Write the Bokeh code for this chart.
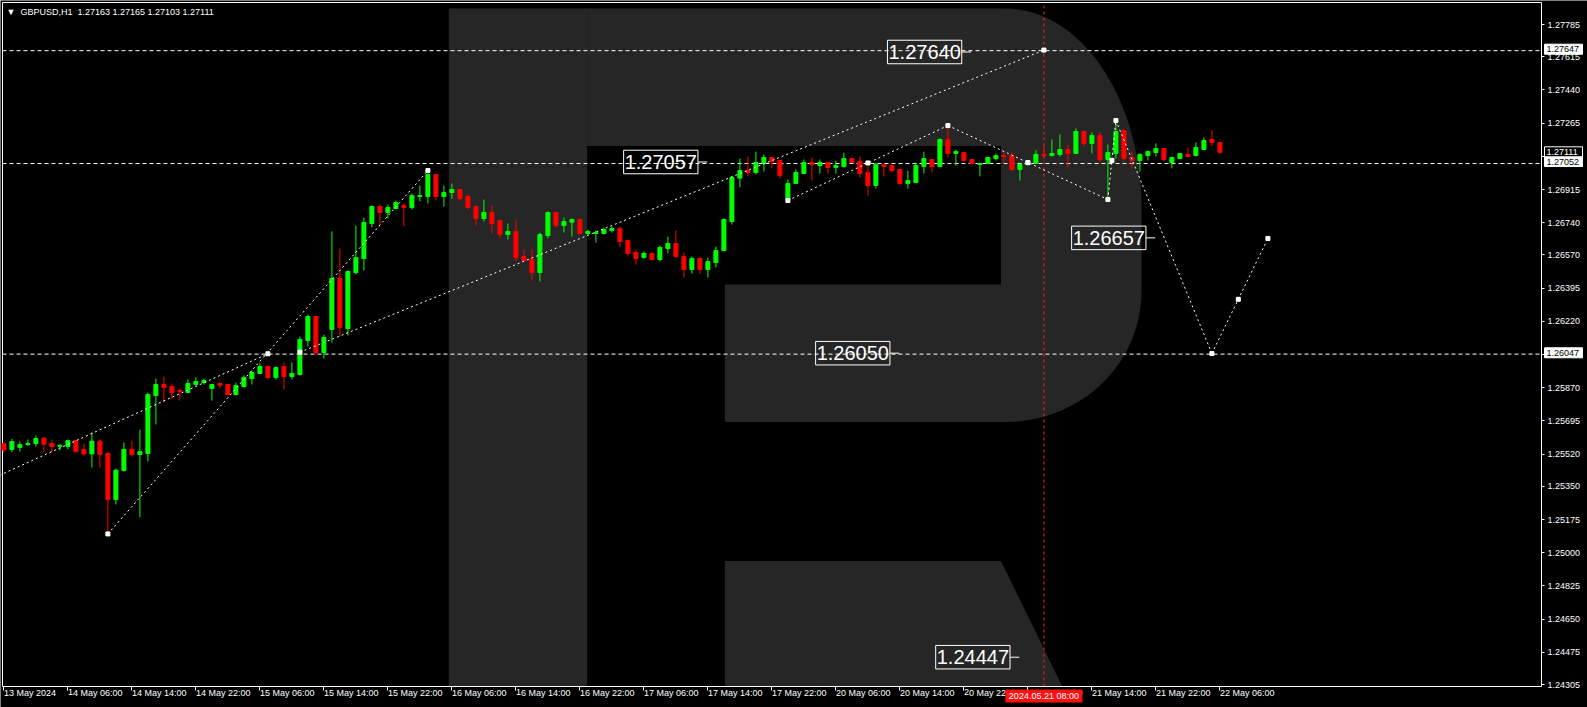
import numpy as np
from bokeh.plotting import figure
from bokeh.models import Range1d, FixedTicker, Label, ColumnDataSource
from bokeh.embed import file_html
from bokeh.resources import INLINE
from bokeh.core.properties import value

# ---------------- data ----------------
symbol_header = "▼\u00a0\u00a0GBPUSD,H1\u00a0\u00a01.27163 1.27165 1.27103 1.27111"

open_ = [1.25574, 1.25544, 1.25555, 1.25570, 1.25576, 1.25604, 1.25576, 1.25561, 1.25560, 1.25591,
         1.25544, 1.25521, 1.25588, 1.25523, 1.25280, 1.25433, 1.25544, 1.25518, 1.25523, 1.25829,
         1.25887, 1.25876, 1.25855, 1.25845, 1.25887, 1.25897, 1.25866, 1.25892, 1.25887, 1.25834,
         1.25876, 1.25918, 1.25945, 1.25982, 1.25924, 1.25982, 1.25929, 1.25939, 1.26119, 1.26245,
         1.26055, 1.26177, 1.26446, 1.26182, 1.26477, 1.26551, 1.26736, 1.26825, 1.26794, 1.26815,
         1.26831, 1.26820, 1.26878, 1.26878, 1.26994, 1.26878, 1.26899, 1.26915, 1.26878, 1.26825,
         1.26762, 1.26794, 1.26751, 1.26678, 1.26694, 1.26562, 1.26546, 1.26477, 1.26672, 1.26794,
         1.26725, 1.26743, 1.26757, 1.26683, 1.26683, 1.26683, 1.26699, 1.26709, 1.26646, 1.26583,
         1.26556, 1.26578, 1.26546, 1.26604, 1.26630, 1.26562, 1.26493, 1.26551, 1.26493, 1.26530,
         1.26593, 1.26746, 1.26975, 1.27015, 1.27005, 1.27054, 1.27084, 1.27068, 1.26862, 1.26947,
         1.26999, 1.27057, 1.27041, 1.27057, 1.27031, 1.27036, 1.27078, 1.27063, 1.27005, 1.26936,
         1.27047, 1.27041, 1.27020, 1.26947, 1.26952, 1.27036, 1.27073, 1.27036, 1.27179, 1.27105,
         1.27110, 1.27073, 1.27047, 1.27052, 1.27078, 1.27094, 1.27094, 1.27020, 1.27047, 1.27052,
         1.27100, 1.27094, 1.27100, 1.27126, 1.27105, 1.27221, 1.27158, 1.27200, 1.27073, 1.27105,
         1.27226, 1.27084, 1.27068, 1.27094, 1.27110, 1.27131, 1.27057, 1.27078, 1.27100, 1.27094,
         1.27126, 1.27179, 1.27163]
high = [1.25581, 1.25600, 1.25586, 1.25597, 1.25618, 1.25607, 1.25597, 1.25570, 1.25597, 1.25595,
        1.25576, 1.25634, 1.25595, 1.25533, 1.25444, 1.25581, 1.25591, 1.25649, 1.25845, 1.25918,
        1.25929, 1.25892, 1.25866, 1.25913, 1.25924, 1.25918, 1.25887, 1.25897, 1.25887, 1.25897,
        1.25934, 1.25961, 1.25998, 1.25987, 1.25982, 1.26003, 1.26003, 1.26140, 1.26256, 1.26245,
        1.26150, 1.26694, 1.26604, 1.26488, 1.26725, 1.26767, 1.26831, 1.26836, 1.26836, 1.26857,
        1.26841, 1.26894, 1.26936, 1.27015, 1.26994, 1.26936, 1.26947, 1.26915, 1.26889, 1.26831,
        1.26862, 1.26831, 1.26751, 1.26736, 1.26751, 1.26599, 1.26602, 1.26688, 1.26799, 1.26794,
        1.26767, 1.26762, 1.26757, 1.26704, 1.26699, 1.26715, 1.26720, 1.26720, 1.26651, 1.26599,
        1.26588, 1.26583, 1.26620, 1.26667, 1.26699, 1.26583, 1.26562, 1.26556, 1.26556, 1.26614,
        1.26762, 1.26984, 1.27078, 1.27089, 1.27115, 1.27100, 1.27084, 1.27068, 1.26968, 1.27020,
        1.27073, 1.27084, 1.27073, 1.27057, 1.27068, 1.27110, 1.27078, 1.27089, 1.27057, 1.27057,
        1.27047, 1.27041, 1.27020, 1.27015, 1.27057, 1.27115, 1.27073, 1.27184, 1.27252, 1.27126,
        1.27115, 1.27073, 1.27057, 1.27084, 1.27105, 1.27110, 1.27110, 1.27057, 1.27068, 1.27121,
        1.27147, 1.27179, 1.27205, 1.27152, 1.27237, 1.27221, 1.27216, 1.27216, 1.27152, 1.27279,
        1.27231, 1.27115, 1.27105, 1.27121, 1.27158, 1.27131, 1.27089, 1.27105, 1.27136, 1.27163,
        1.27189, 1.27226, 1.27165]
low = [1.25528, 1.25530, 1.25533, 1.25563, 1.25560, 1.25528, 1.25527, 1.25539, 1.25546, 1.25528,
       1.25512, 1.25449, 1.25449, 1.25099, 1.25254, 1.25428, 1.25507, 1.25187, 1.25481, 1.25676,
       1.25792, 1.25808, 1.25802, 1.25845, 1.25881, 1.25887, 1.25802, 1.25866, 1.25829, 1.25829,
       1.25871, 1.25887, 1.25945, 1.25913, 1.25913, 1.25860, 1.25913, 1.25934, 1.26087, 1.26045,
       1.26024, 1.26108, 1.26140, 1.26145, 1.26467, 1.26488, 1.26715, 1.26720, 1.26762, 1.26809,
       1.26720, 1.26809, 1.26852, 1.26841, 1.26857, 1.26825, 1.26866, 1.26861, 1.26809, 1.26725,
       1.26746, 1.26683, 1.26657, 1.26651, 1.26535, 1.26535, 1.26435, 1.26430, 1.26658, 1.26715,
       1.26688, 1.26667, 1.26678, 1.26678, 1.26635, 1.26678, 1.26688, 1.26611, 1.26562, 1.26519,
       1.26551, 1.26541, 1.26535, 1.26578, 1.26556, 1.26451, 1.26472, 1.26470, 1.26451, 1.26504,
       1.26593, 1.26730, 1.26926, 1.26984, 1.26994, 1.27010, 1.27026, 1.26973, 1.26857, 1.26947,
       1.26999, 1.26962, 1.26999, 1.26999, 1.26999, 1.27031, 1.27057, 1.26978, 1.26883, 1.26920,
       1.26984, 1.27005, 1.26941, 1.26920, 1.26952, 1.26999, 1.27005, 1.27036, 1.27084, 1.27041,
       1.27063, 1.27052, 1.26984, 1.27052, 1.27068, 1.27057, 1.27015, 1.26962, 1.27041, 1.27052,
       1.27078, 1.27089, 1.27089, 1.27031, 1.27105, 1.27142, 1.27105, 1.27057, 1.26862, 1.27078,
       1.27068, 1.27026, 1.27010, 1.27068, 1.27089, 1.27063, 1.27026, 1.27078, 1.27084, 1.27089,
       1.27126, 1.27142, 1.27103]
close = [1.25542, 1.25586, 1.25570, 1.25576, 1.25602, 1.25572, 1.25560, 1.25567, 1.25591, 1.25533,
         1.25521, 1.25588, 1.25519, 1.25280, 1.25435, 1.25544, 1.25518, 1.25533, 1.25834, 1.25887,
         1.25871, 1.25845, 1.25850, 1.25892, 1.25903, 1.25908, 1.25887, 1.25883, 1.25834, 1.25881,
         1.25924, 1.25950, 1.25982, 1.25924, 1.25976, 1.25929, 1.25945, 1.26124, 1.26245, 1.26055,
         1.26135, 1.26446, 1.26187, 1.26483, 1.26556, 1.26741, 1.26825, 1.26794, 1.26820, 1.26846,
         1.26820, 1.26883, 1.26883, 1.26994, 1.26878, 1.26899, 1.26915, 1.26866, 1.26820, 1.26762,
         1.26794, 1.26736, 1.26678, 1.26694, 1.26556, 1.26541, 1.26477, 1.26678, 1.26794, 1.26725,
         1.26746, 1.26757, 1.26683, 1.26694, 1.26688, 1.26704, 1.26709, 1.26641, 1.26578, 1.26551,
         1.26578, 1.26546, 1.26609, 1.26630, 1.26562, 1.26493, 1.26551, 1.26493, 1.26535, 1.26593,
         1.26757, 1.26978, 1.27015, 1.27005, 1.27057, 1.27084, 1.27063, 1.26989, 1.26947, 1.27005,
         1.27057, 1.27047, 1.27057, 1.27031, 1.27041, 1.27078, 1.27057, 1.26999, 1.26936, 1.27047,
         1.27036, 1.27015, 1.26947, 1.26962, 1.27041, 1.27078, 1.27036, 1.27179, 1.27105, 1.27115,
         1.27068, 1.27052, 1.27052, 1.27084, 1.27094, 1.27089, 1.27020, 1.27047, 1.27063, 1.27100,
         1.27094, 1.27105, 1.27126, 1.27105, 1.27221, 1.27158, 1.27200, 1.27073, 1.27110, 1.27221,
         1.27078, 1.27068, 1.27100, 1.27115, 1.27131, 1.27073, 1.27084, 1.27105, 1.27089, 1.27136,
         1.27173, 1.27163, 1.27111]

time_ticks = list(range(0, 153, 8))
time_labels = ["13 May 2024", "14 May 06:00", "14 May 14:00", "14 May 22:00", "15 May 06:00",
               "15 May 14:00", "15 May 22:00", "16 May 06:00", "16 May 14:00", "16 May 22:00",
               "17 May 06:00", "17 May 14:00", "17 May 22:00", "20 May 06:00", "20 May 14:00",
               "20 May 22:00", "21 May 06:00", "21 May 14:00", "21 May 22:00", "22 May 06:00"]

price_ticks = [1.27785, 1.27615, 1.27440, 1.27265, 1.27090, 1.26915, 1.26740, 1.26570, 1.26395,
               1.26220, 1.26045, 1.25870, 1.25695, 1.25520, 1.25350, 1.25175, 1.25000, 1.24825,
               1.24650, 1.24475, 1.24305]
price_labels = ["1.27785", "1.27615", "1.27440", "1.27265", "", "1.26915", "1.26740", "1.26570",
                "1.26395", "1.26220", "", "1.25870", "1.25695", "1.25520", "1.25350", "1.25175",
                "1.25000", "1.24825", "1.24650", "1.24475", "1.24305"]

level_prices = [1.27647, 1.27052, 1.26047]
level_labels = ["1.27647", "1.27052", "1.26047"]
bid_price = 1.27111
bid_label = "1.27111"

vline_bar = 130
vline_label = "2024.05.21 08:00"

# forecast paths: (bar index, price)
path_x = [[-1.7, 33.0], [13, 53], [37, 130], [98, 118], [118, 138], [138, 139], [139, 151], [151, 158]]
path_y = [[1.25386, 1.26049], [1.25099, 1.27015], [1.26057, 1.27650], [1.26857, 1.27252],
          [1.27252, 1.26862], [1.26862, 1.27279], [1.27279, 1.26050], [1.26050, 1.26657]]
point_x = [13, 33, 37, 53, 98, 108, 118, 128, 138, 138.5, 139, 130, 151, 154.3, 158]
point_y = [1.25099, 1.26049, 1.26057, 1.27015, 1.26857, 1.27055, 1.27252, 1.27057, 1.26862,
           1.27068, 1.27279, 1.27650, 1.26050, 1.26336, 1.26657]

target_text = ["1.27640", "1.27057", "1.26657", "1.26050", "1.24447"]
target_x = [115.09, 82.11, 138.11, 106.11, 121.12]
target_y = [1.27640, 1.27060, 1.26660, 1.26052, 1.24449]

# ---------------- helpers (decoration layout only: pixel -> chart units) ----------------
def fx(px):
    return (px - 3.4) / 8.0

def fy(py):
    return 1.27785 - (py - 24.0) / 18966.0

BG = "black"
FG = "white"
BULL = "#00ff00"
BEAR = "#ff0000"
LOGO = "#262626"
FONT = "Liberation Sans"
X_LEFT, X_AXIS = fx(2), fx(1541)
Y_TOP, Y_AXIS = fy(2), fy(686)

p = figure(width=1587, height=707, output_backend="svg", toolbar_location=None,
           x_range=Range1d(fx(0), fx(1587)), y_range=Range1d(fy(707), fy(0)),
           y_axis_location="right", min_border=0, min_border_left=0, min_border_right=0,
           min_border_top=0, min_border_bottom=0)
p.background_fill_color = BG
p.border_fill_color = BG
p.outline_line_color = None
p.grid.visible = False

# ---- watermark logo (clipped to the chart box) ----
t1 = np.linspace(np.pi / 2, 0, 30)
t2 = np.linspace(0, -np.pi / 2, 30)
arc1 = [(1005 + 136 * np.cos(t), 208 - 200 * np.sin(t)) for t in t1]
arc2 = [(1005 + 136 * np.cos(t), 291 - 130.5 * np.sin(t)) for t in t2]
bowl = [(586.6, 8)] + arc1 + arc2 + [(724.4, 421.5), (724.4, 284), (1000.5, 284),
                                     (1000.5, 145.6), (586.6, 145.6)]
stem = [(448.3, 8), (586.6, 8), (586.6, 686), (448.3, 686)]
leg = [(724.4, 560.4), (1000.5, 560.4), (1061.8, 686), (724.4, 686)]
shapes = [stem, bowl, leg]
p.patches(xs=[[fx(a) for a, b in s] for s in shapes],
          ys=[[fy(b) for a, b in s] for s in shapes],
          fill_color=LOGO, line_color=None)

# ---- chart box (top / left edges; axes give the others) ----
p.segment(x0=[X_LEFT, X_LEFT], y0=[Y_TOP, Y_TOP], x1=[X_AXIS, X_LEFT], y1=[Y_TOP, Y_AXIS],
          line_color=FG, line_width=1)

# ---- horizontal levels / vertical line ----
p.segment(x0=[X_LEFT] * 3, y0=level_prices, x1=[X_AXIS] * 3, y1=level_prices,
          line_color=FG, line_width=1, line_dash="4 3")
p.segment(x0=[vline_bar], y0=[Y_AXIS], x1=[vline_bar], y1=[Y_TOP],
          line_color="#ff2020", line_width=1, line_dash="3 3")

# ---- candles ----
n = list(range(len(open_)))
colors = [BULL if c >= o else BEAR for o, c in zip(open_, close)]
src = ColumnDataSource(dict(x=n, o=open_, h=high, l=low, c=close,
                            top=[max(a, b) for a, b in zip(open_, close)],
                            bot=[min(a, b) for a, b in zip(open_, close)],
                            col=colors))
p.segment(x0="x", y0="l", x1="x", y1="h", line_color="col", line_width=1, source=src)
p.vbar(x="x", width=0.5, top="top", bottom="bot", fill_color="col", line_color="col",
       line_width=1, source=src)

# ---- forecast lines ----
p.multi_line(xs=path_x, ys=path_y, line_color=FG, line_width=1, line_dash="2 3")
p.scatter(x=point_x, y=point_y, marker="square", size=4, fill_color=FG, line_color=FG)

# ---- target boxes ----
p.rect(x=target_x, y=target_y, width=9.29, height=0.00124, fill_color=None,
       line_color=FG, line_width=1)
p.text(x=target_x, y=target_y, text=target_text, text_align="center",
       text_baseline="middle", text_color=FG, text_font=value(FONT),
       text_font_size="20px")
p.segment(x0=[v + 4.65 for v in target_x], y0=target_y,
          x1=[v + 5.8 for v in target_x], y1=target_y, line_color=FG, line_width=1)

# ---- header ----
p.add_layout(Label(x=fx(6), y=fy(11), text=symbol_header, text_color=FG,
                   text_font=FONT, text_font_size="9px", text_baseline="middle"))

# ---- axes (real Bokeh axes pinned to the chart box edges) ----
p.xaxis.fixed_location = Y_AXIS
p.xaxis.bounds = (X_LEFT, X_AXIS)
p.xaxis.ticker = FixedTicker(ticks=time_ticks)
p.xaxis.major_label_overrides = {t: s for t, s in zip(time_ticks, time_labels)}
p.xaxis.major_label_orientation = -0.0001
p.xaxis.major_label_standoff = 2
p.xaxis.major_tick_out = 4
p.yaxis.fixed_location = X_AXIS
p.yaxis.bounds = (Y_AXIS, Y_TOP)
p.yaxis.ticker = FixedTicker(ticks=price_ticks)
p.yaxis.major_label_overrides = {t: s for t, s in zip(price_ticks, price_labels)}
p.yaxis.major_label_standoff = 3
p.yaxis.major_tick_out = 3
for ax in (p.xaxis, p.yaxis):
    ax.axis_line_color = FG
    ax.major_tick_line_color = FG
    ax.minor_tick_line_color = None
    ax.major_tick_in = 0
    ax.major_label_text_color = FG
    ax.major_label_text_font = FONT
    ax.major_label_text_font_size = "9px"

# ---- price boxes on the price scale ----
box_x = fx(1563)
box_w = 38 / 8.0
box_h = 10 / 18966.0
level_box_y = [fy(48.7), fy(161.0), fy(352.3)]
bid_box_y = fy(151.3)
p.rect(x=[box_x] * 3, y=level_box_y, width=box_w, height=box_h, fill_color=FG,
       line_color=FG, level="overlay")
p.text(x=[fx(1546)] * 3, y=level_box_y, text=level_labels, text_color="black",
       text_font=value(FONT), text_font_size="9px", text_baseline="middle",
       text_align="left", level="overlay")
p.rect(x=[box_x], y=[bid_box_y], width=box_w, height=box_h, fill_color=BG,
       line_color=FG, level="overlay")
p.text(x=[fx(1546)], y=[bid_box_y], text=[bid_label], text_color=FG,
       text_font=value(FONT), text_font_size="9px", text_baseline="middle",
       text_align="left", level="overlay")

# ---- time box under the vertical line ----
p.rect(x=[vline_bar], y=[fy(695.5)], width=77 / 8.0, height=13 / 18966.0,
       fill_color="#ff1010", line_color=None, level="overlay")
p.text(x=[vline_bar], y=[fy(695.5)], text=[vline_label], text_color=FG,
       text_font=value(FONT), text_font_size="9px", text_baseline="middle",
       text_align="center", level="overlay")

open("out.html", "w").write(file_html(p, INLINE))
